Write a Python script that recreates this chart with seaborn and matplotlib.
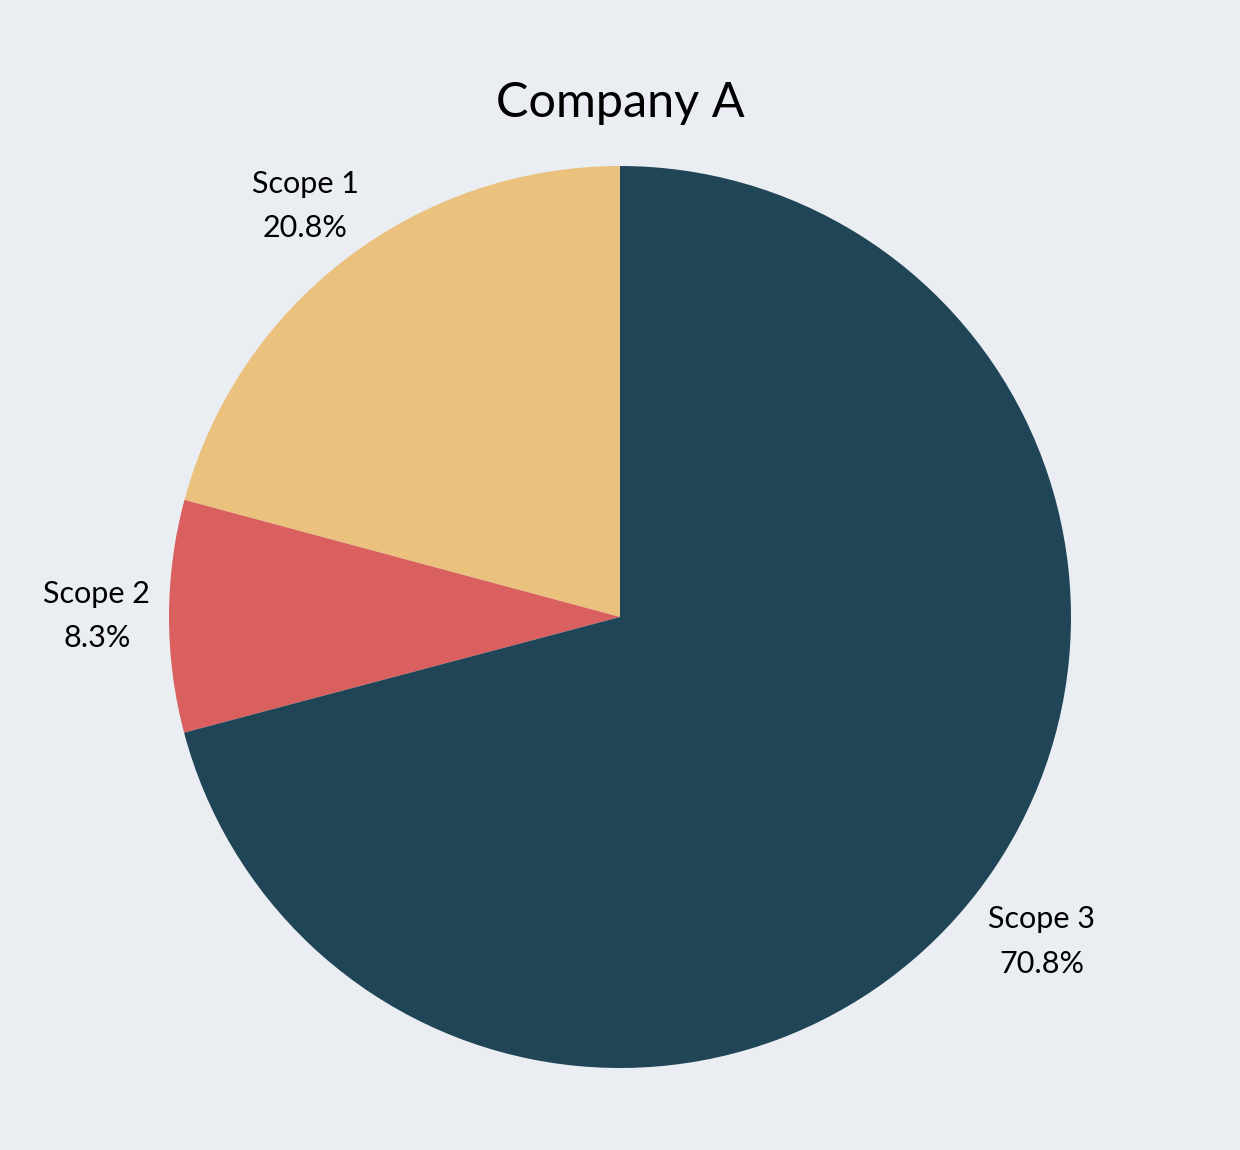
import matplotlib
matplotlib.use("Agg")
import matplotlib.pyplot as plt
import seaborn as sns

# data
scopes = ["Scope 1", "Scope 2", "Scope 3"]
shares = [20.8, 8.3, 70.8]
colors = ["#EBC17E", "#D9605E", "#1F4557"]
label_dist = [1.148, 1.16, 1.18]

bg = "#EAEEF3"
sns.set_theme(style="white", rc={"figure.facecolor": bg, "axes.facecolor": bg})
plt.rcParams["font.family"] = ["Lato", "DejaVu Sans"]

fig = plt.figure(figsize=(12.4, 11.5), dpi=100)
# pie of radius 451px centred at (620, 617)
ax = fig.add_axes([(620 - 451) / 1240, (1150 - 1068) / 1150, 902 / 1240, 902 / 1150])

labels = [f"{s}\n{v:.1f}%" for s, v in zip(scopes, shares)]
wedges, texts = ax.pie(
    shares,
    labels=labels,
    colors=colors,
    startangle=90,
    counterclock=True,
    labeldistance=1.16,
    wedgeprops={"linewidth": 0},
    textprops={"fontsize": 22, "color": "black", "linespacing": 1.7},
)
for t, d in zip(texts, label_dist):
    x, y = t.get_position()
    t.set_position((x * d / 1.16, y * d / 1.16))
    t.set_horizontalalignment("center")
    t.set_verticalalignment("center")
ax.set_xlim(-1, 1)
ax.set_ylim(-1, 1)
ax.set_aspect("equal")
ax.axis("off")

fig.text(0.5, 1 - 103 / 1150, "Company A", ha="center", va="center", fontsize=35, color="black")

fig.savefig("out.png", dpi=100, facecolor=bg)
